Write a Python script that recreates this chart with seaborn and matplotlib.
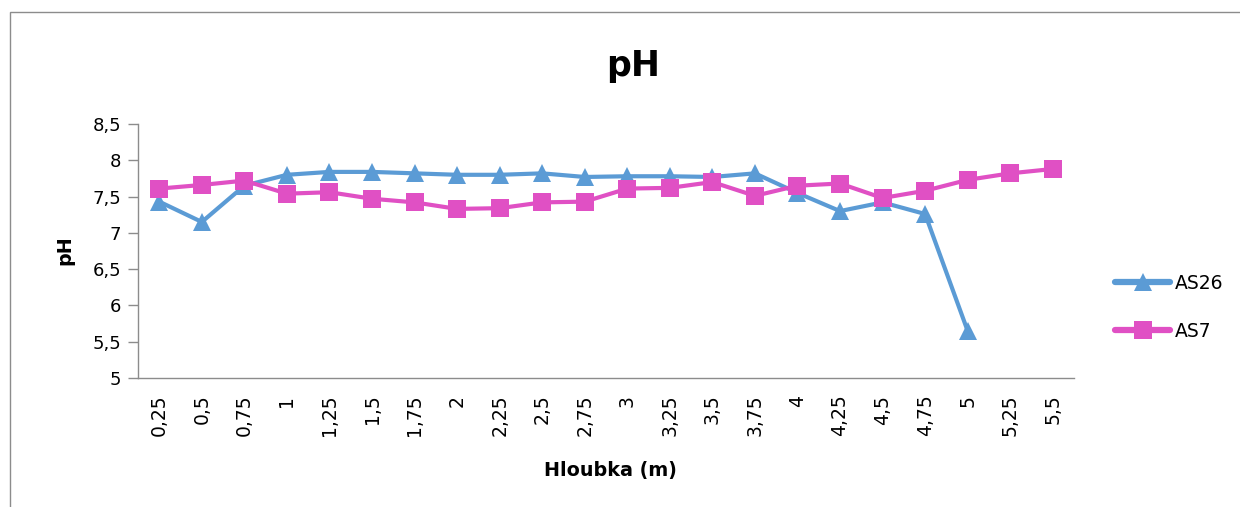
import numpy as np
import pandas as pd
import matplotlib
matplotlib.use("Agg")
import matplotlib.pyplot as plt
import seaborn as sns

depths = ["0,25", "0,5", "0,75", "1", "1,25", "1,5", "1,75", "2", "2,25", "2,5", "2,75",
          "3", "3,25", "3,5", "3,75", "4", "4,25", "4,5", "4,75", "5", "5,25", "5,5"]
as26 = [7.43, 7.15, 7.65, 7.80, 7.84, 7.84, 7.82, 7.80, 7.80, 7.82, 7.77,
        7.78, 7.78, 7.77, 7.82, 7.55, 7.30, 7.42, 7.26, 5.65, np.nan, np.nan]
as7 = [7.61, 7.66, 7.72, 7.54, 7.56, 7.47, 7.42, 7.33, 7.34, 7.42, 7.43,
       7.61, 7.62, 7.70, 7.51, 7.65, 7.68, 7.48, 7.58, 7.73, 7.82, 7.88]
series_names = ["AS26", "AS7"]
yticks = [5, 5.5, 6, 6.5, 7, 7.5, 8, 8.5]

sns.set_theme(style="white")
plt.rcParams['font.family'] = ['DejaVu Sans']
plt.rcParams['text.color'] = 'black'
plt.rcParams['xtick.color'] = 'black'
plt.rcParams['ytick.color'] = 'black'
plt.rcParams['axes.labelcolor'] = 'black'

rows = []
for name, vals in zip(series_names, [as26, as7]):
    for i, v in enumerate(vals):
        rows.append({"pos": i, "pH": v, "series": name})
df = pd.DataFrame(rows)

W, H = 1240, 507
fig = plt.figure(figsize=(12.4, 5.07), dpi=100)
ax = fig.add_axes([138 / W, 1 - 378 / H, (1074 - 138) / W, (378 - 124) / H])

palette = {"AS26": "#5B9BD5", "AS7": "#E050C4"}
markers = {"AS26": "^", "AS7": "s"}
sns.lineplot(data=df, x="pos", y="pH", hue="series", style="series",
             palette=palette, markers=markers, dashes=False, linewidth=3.0,
             markersize=13.5, markeredgewidth=0, ax=ax, sort=False,
             hue_order=series_names, style_order=series_names)

ax.set_xlim(-0.5, len(depths) - 0.5)
ax.set_ylim(5, 8.5)
ax.set_xticks(range(len(depths)))
ax.set_xticklabels(depths, rotation=90, fontsize=13.5)
ax.set_yticks(yticks)
ax.set_yticklabels([("%g" % t).replace(".", ",") for t in yticks], fontsize=13)
ax.tick_params(axis="y", length=7, width=1, color="#8c8c8c", direction="out", left=True, pad=5,
               labelcolor="black")
ax.tick_params(axis="x", length=0, pad=12, labelcolor="black")
for s in ["top", "right"]:
    ax.spines[s].set_visible(False)
for s in ["left", "bottom"]:
    ax.spines[s].set_color("#8c8c8c")
    ax.spines[s].set_linewidth(1.0)

ax.set_xlabel("Hloubka (m)", fontsize=13.8, fontweight="bold")
ax.xaxis.set_label_coords((610 - 138) / (1074 - 138), -(470 - 378) / (378 - 124))
ax.xaxis.label.set_va("center")
ax.set_ylabel("pH", fontsize=13.8, fontweight="bold")
ax.yaxis.set_label_coords(-(138 - 65) / (1074 - 138), (378 - 250) / (378 - 124))
ax.yaxis.label.set_va("center")
fig.text(633 / W, 1 - 66 / H, "pH", ha="center", va="center", fontsize=25, fontweight="bold")

leg = ax.legend(loc="center left", bbox_to_anchor=(1115 / W, 1 - 307.5 / H),
                bbox_transform=fig.transFigure, frameon=False, borderpad=0, borderaxespad=0,
                fontsize=13.5, handlelength=2.95, handletextpad=0.25, labelspacing=1.55)
for h in leg.legend_handles:
    h.set_linewidth(4.5)

# outer chart frame
fig.add_artist(plt.Rectangle((10 / W, -0.1), 1.2, 1 - 12 / H + 0.1,
                             transform=fig.transFigure, fill=False,
                             edgecolor="#8c8c8c", linewidth=1.0))

fig.savefig("out.png", dpi=100, facecolor="white")
